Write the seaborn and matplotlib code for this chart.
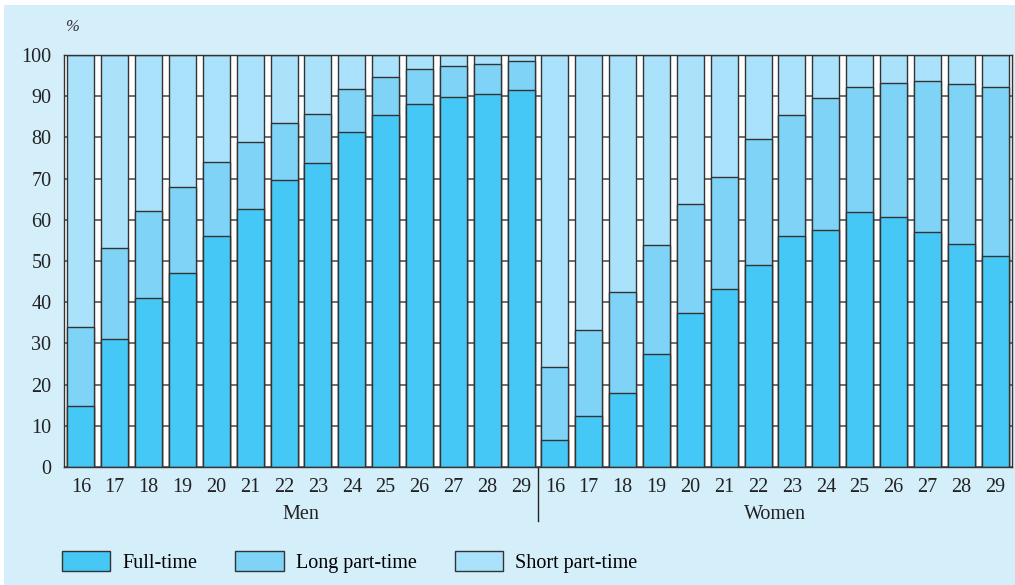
import pandas as pd
import matplotlib.pyplot as plt
import matplotlib.transforms as mtransforms
from matplotlib.patches import Rectangle, Patch
import seaborn as sns

# values (% of employed, by age)
ages = [16, 17, 18, 19, 20, 21, 22, 23, 24, 25, 26, 27, 28, 29]
groups = ['Men', 'Women']
men_full = [14.8, 31.1, 40.9, 47.2, 56.1, 62.6, 69.7, 73.8, 81.3, 85.4, 88.0, 89.8, 90.6, 91.6]
men_long = [19.3, 22.1, 21.2, 20.8, 17.9, 16.4, 13.8, 12.0, 10.4, 9.3, 8.6, 7.5, 7.1, 7.0]
women_full = [6.6, 12.4, 18.0, 27.5, 37.5, 43.3, 49.0, 56.0, 57.5, 61.9, 60.7, 57.0, 54.2, 51.3]
women_long = [17.6, 20.9, 24.5, 26.5, 26.4, 27.2, 30.5, 29.4, 32.1, 30.3, 32.4, 36.7, 38.8, 41.0]
series = ['Full-time', 'Long part-time', 'Short part-time']
colors = ['#45c8f5', '#7fd3f7', '#aae2fb']

rows = []
for g, full, long_ in [('Men', men_full, men_long), ('Women', women_full, women_long)]:
    for a, f, l in zip(ages, full, long_):
        rows.append({'key': f'{g}{a}', 'age': a, 'full': f, 'long': l,
                     'short': 100 - f - l})
df = pd.DataFrame(rows)
df['cum_long'] = df['full'] + df['long']
df['total'] = df['cum_long'] + df['short']

plt.rcParams['font.family'] = ['Liberation Serif', 'DejaVu Serif']
FS = 14.5

fig = plt.figure(figsize=(10.15, 5.85), dpi=100, facecolor='white')
fig.patches.append(Rectangle((4 / 1015, 0), 1, 580 / 585, transform=fig.transFigure,
                             facecolor='#d4eefa', edgecolor='none', zorder=-10))
ax = fig.add_axes([64 / 1015, 118 / 585, 948 / 1015, 412 / 585])
ax.set_facecolor('white')

# stacked bars: draw the cumulative totals from the top down
order = df['key'].tolist()
for col, c in zip(['total', 'cum_long', 'full'], colors[::-1]):
    sns.barplot(data=df, x='key', y=col, order=order, color=c, saturation=1,
                width=0.8, edgecolor='#333333', linewidth=1, ax=ax)

ax.set_xlim(-0.5, len(order) - 0.5)
ax.set_ylim(0, 100)
ax.set_yticks(range(0, 101, 10))
ax.set_xticks(range(len(order)))
ax.set_xticklabels([str(a) for a in df['age']])
ax.set_xlabel('')
ax.set_ylabel('')
ax.tick_params(axis='both', length=0, labelsize=FS, colors='#222222')
ax.tick_params(axis='y', pad=9)
ax.tick_params(axis='x', pad=8)
ax.set_axisbelow(True)
ax.grid(axis='y', color='#555555', linewidth=1.2)
for s in ax.spines.values():
    s.set_color('#333333')
    s.set_linewidth(1)

# group labels and separator
trans = mtransforms.blended_transform_factory(ax.transData, ax.transAxes)
ax.text(6.5, -0.116, groups[0], transform=trans, ha='center', va='center',
        fontsize=FS, color='#222222')
ax.text(20.5, -0.116, groups[1], transform=trans, ha='center', va='center',
        fontsize=FS, color='#222222')
ax.axvline(13.5, ymin=-0.13, ymax=0, color='#222222', linewidth=1, clip_on=False)

fig.text(72 / 1015, 1 - 27 / 585, '%', style='italic', fontsize=12,
         ha='center', va='center', color='#333333')

handles = [Patch(facecolor=c, edgecolor='#333333', linewidth=1, label=s)
           for c, s in zip(colors, series)]
fig.legend(handles=handles, loc='center left', bbox_to_anchor=(62 / 1015, 23 / 585),
           ncol=3, frameon=False, fontsize=FS, borderpad=0, borderaxespad=0,
           handlelength=2.39, handleheight=1.15, handletextpad=0.6,
           columnspacing=1.9)

fig.savefig('out.png', dpi=100, facecolor='white')
